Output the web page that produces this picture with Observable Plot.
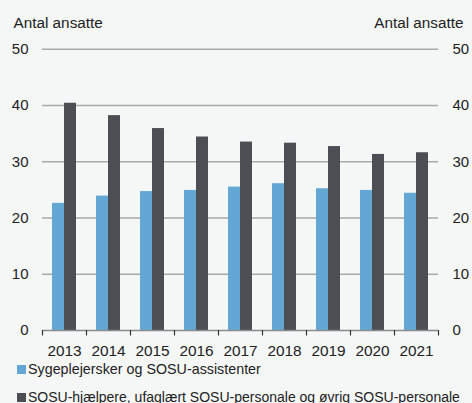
<!DOCTYPE html>
<html>
<head>
<meta charset="utf-8">
<script src="https://cdn.jsdelivr.net/npm/d3@7"></script>
<script src="https://cdn.jsdelivr.net/npm/@observablehq/plot@0.6"></script>
<style>
  html, body { margin: 0; padding: 0; background: #f5f7f7; }
  #wrap { position: relative; width: 472px; height: 403px; background: #f5f7f7; font-family: "Liberation Sans", Arial, Helvetica, sans-serif; color: #222; overflow: hidden; }
  #chart { position: absolute; left: 0; top: 0; }
  .lg-sw { position: absolute; width: 9px; height: 9px; }
  .lg-tx { position: absolute; font-size: 14px; line-height: 15px; white-space: nowrap; color: #222; }
</style>
</head>
<body>
<div id="wrap">
  <div id="chart"></div>
  <div id="legend"></div>
</div>
<script>
const years = ["2013", "2014", "2015", "2016", "2017", "2018", "2019", "2020", "2021"];
const seriesNames = [
  "Sygeplejersker og SOSU-assistenter",
  "SOSU-hjælpere, ufaglært SOSU-personale og øvrig SOSU-personale"
];
const sygeplejersker = [22.6, 23.9, 24.7, 24.9, 25.5, 26.1, 25.2, 24.9, 24.4];
const sosuHjaelpere = [40.4, 38.2, 35.9, 34.4, 33.5, 33.3, 32.7, 31.3, 31.6];
const seriesColors = ["#63a8d4", "#4d4e53"];
const yTicks = [0, 10, 20, 30, 40, 50];
const gridTicks = [10, 20, 30, 40, 50];
const axisTitle = "Antal ansatte";

const data = [];
years.forEach((y, i) => {
  data.push({year: y, series: seriesNames[0], value: sygeplejersker[i]});
  data.push({year: y, series: seriesNames[1], value: sosuHjaelpere[i]});
});

const tickShape = {
  draw(context, length) {
    context.moveTo(0, 0);
    context.lineTo(0, -length);
  }
};

const chart = Plot.plot({
  width: 472,
  height: 360,
  marginTop: 48.75,
  marginBottom: 30,
  marginLeft: 40,
  marginRight: 32,
  style: {background: "transparent", fontFamily: "Liberation Sans, Arial, sans-serif", fontSize: "15px", color: "#222"},
  fx: {domain: years, paddingInner: 0, paddingOuter: 0, label: null},
  x: {domain: seriesNames, paddingInner: 0, paddingOuter: 0.755, axis: null},
  y: {domain: [0, 50]},
  color: {domain: seriesNames, range: seriesColors},
  marks: [
    Plot.ruleY(gridTicks, {stroke: "#a9a9a9", strokeWidth: 1.5}),
    Plot.barY(data, {fx: "year", x: "series", y: "value", fill: "series"}),
    Plot.ruleY([0], {stroke: "#8a8a8a", strokeWidth: 1.6}),
    Plot.vector(years, {fx: d => d, frameAnchor: "bottom-left", length: 4.5, rotate: 180, anchor: "start", shape: tickShape, stroke: "#333", strokeWidth: 1.2}),
    Plot.vector([years[years.length - 1]], {fx: d => d, frameAnchor: "bottom-right", length: 4.5, rotate: 180, anchor: "start", shape: tickShape, stroke: "#333", strokeWidth: 1.2}),
    Plot.axisY(yTicks, {anchor: "left", tickSize: 0, tickPadding: 14, label: null, fontSize: 15}),
    Plot.axisY(yTicks, {anchor: "right", tickSize: 0, tickPadding: 14, label: null, fontSize: 15}),
    Plot.axisFx({anchor: "bottom", tickSize: 0, tickPadding: 15, label: null, fontSize: 15.4}),
    Plot.text([axisTitle], {facet: "super", frameAnchor: "top-left", textAnchor: "start", lineAnchor: "bottom", dx: -29, dy: -21.5, fontSize: 15.3, fill: "#222"}),
    Plot.text([axisTitle], {facet: "super", frameAnchor: "top-right", textAnchor: "end", lineAnchor: "bottom", dx: 25, dy: -21.5, fontSize: 15.3, fill: "#222"})
  ]
});
document.getElementById("chart").appendChild(chart);

const legend = document.getElementById("legend");
const rows = [{top: 365, baseline: 374, width: 233}, {top: 393, baseline: 402, width: 432}];
seriesNames.forEach((name, i) => {
  const sw = document.createElement("div");
  sw.className = "lg-sw";
  sw.style.left = "17px";
  sw.style.top = rows[i].top + "px";
  sw.style.background = seriesColors[i];
  legend.appendChild(sw);
  const tx = document.createElement("span");
  tx.className = "lg-tx";
  tx.style.left = "28px";
  tx.textContent = name;
  legend.appendChild(tx);
  const w = tx.getBoundingClientRect().width;
  let size = 14;
  if (w > 0) size = Math.min(15.5, 14 * rows[i].width / w);
  tx.style.fontSize = size.toFixed(2) + "px";
  tx.style.lineHeight = size.toFixed(2) + "px";
  tx.style.top = (rows[i].baseline - size * 0.85) + "px";
});
</script>
</body>
</html>
